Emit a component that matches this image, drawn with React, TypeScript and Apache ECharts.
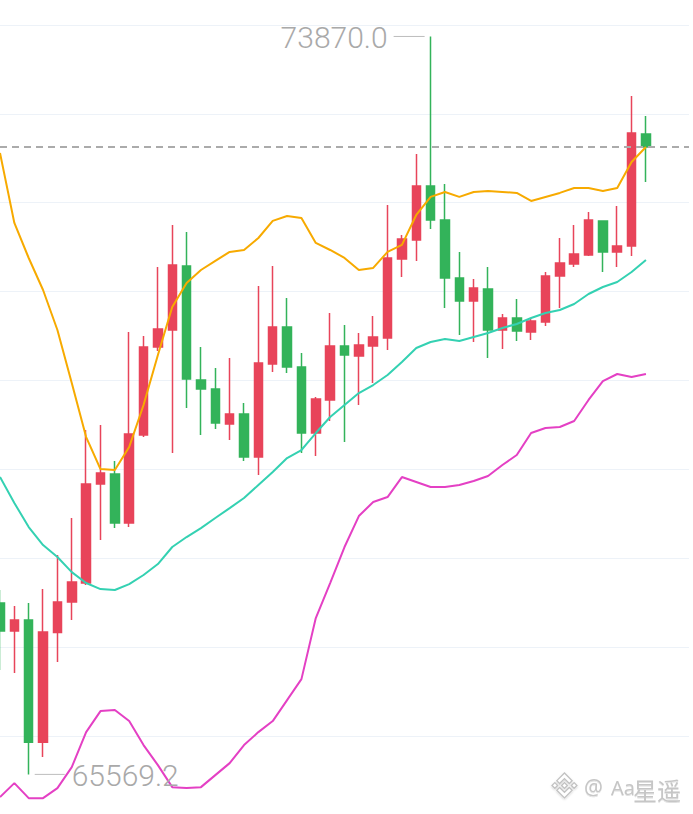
import React, { useEffect, useRef } from "react";
import * as echarts from "echarts";

// ---- data ----
const categories = Array.from({ length: 49 }, (_, i) => String(i + 1));

const opens = [67496, 67181, 67305, 65932, 67165, 67508, 67722, 68835, 68948, 68397, 69387, 70377, 70568, 71288, 70006, 69904, 69510, 69623, 69139, 70186, 70602, 70152, 69409, 69781, 70388, 70276, 70388, 70478, 71367, 71581, 72188, 71806, 71153, 70894, 71030, 70568, 70703, 70546, 70658, 71176, 71311, 71412, 71795, 71446, 71513, 72774];
const closes = [67181, 67305, 65932, 67170, 67508, 67733, 68835, 68959, 68397, 69398, 70377, 70579, 71300, 70017, 69904, 69522, 69623, 69139, 70197, 70602, 70152, 69409, 69792, 70388, 70287, 70399, 70489, 71378, 71592, 72188, 71806, 71153, 70894, 71041, 70568, 70703, 70557, 70670, 71176, 71322, 71423, 71806, 71446, 71513, 72785, 72627];
const lows = [66743, 66709, 65569.2, 65764, 66833, 67305, 67699, 68205, 68340, 68352, 69364, 70332, 69184, 69691, 69387, 69454, 69330, 69094, 68937, 70096, 70084, 69184, 69150, 69544, 69308, 69724, 69972, 70343, 71165, 71345, 71705, 70816, 70512, 70433, 70253, 70354, 70444, 70456, 70613, 70816, 71277, 71400, 71221, 71277, 71401, 72233];
const highs = [67643, 67463, 67496, 67654, 68037, 68453, 69443, 69499, 69094, 70546, 70501, 71277, 71750, 71671, 70377, 70141, 70253, 69747, 71063, 71288, 70928, 70309, 69814, 70760, 70624, 70534, 70726, 71975, 71637, 72549, 73870.0, 72211, 71446, 71142, 71277, 70748, 70917, 70703, 71221, 71603, 71750, 71896, 71800, 71963, 73201, 72976];

const upperBand = [72560, 71772, 71378, 71018, 70568, 69972, 69364, 69004, 68993, 69252, 69724, 70287, 70827, 71097, 71243, 71345, 71446, 71468, 71603, 71795, 71851, 71828, 71547, 71468, 71378, 71243, 71266, 71446, 71525, 71862, 72065, 72121, 72065, 72121, 72132, 72121, 72110, 72020, 72065, 72110, 72166, 72166, 72132, 72166, 72458, 72627];
const midBand = [68914, 68622, 68352, 68149, 68014, 67845, 67722, 67654, 67643, 67710, 67812, 67935, 68127, 68239, 68340, 68453, 68565, 68678, 68824, 68970, 69128, 69218, 69409, 69589, 69724, 69859, 69949, 70062, 70208, 70366, 70433, 70467, 70444, 70489, 70534, 70591, 70636, 70703, 70760, 70793, 70861, 70973, 71052, 71108, 71221, 71356];
const lowerBand = [65314, 65471, 65302, 65302, 65415, 65651, 66045, 66281, 66293, 66169, 65899, 65674, 65426, 65415, 65426, 65561, 65696, 65899, 66045, 66169, 66405, 66641, 67328, 67722, 68127, 68475, 68633, 68689, 68914, 68858, 68802, 68802, 68824, 68869, 68925, 69049, 69162, 69409, 69466, 69477, 69544, 69781, 69994, 70073, 70039, 70073];

const yTicks = [65000, 75000, 1000]; // min, max, step

const RED = "#e8445a";
const GREEN = "#33b35a";

// the chart canvas is taller than the page; it is shifted up so that
// the visible window shows the 65000..75000 range as in the reference
const OFFSET_TOP = 64;
const CANVAS_H = 889;

const LOGO_D =
  "M38.73 53.2L63.3 28.63l24.59 24.59 14.3-14.3L63.3 0 24.43 38.88l14.3 14.3zM0 63.31l14.3-14.3 14.3 14.3-14.3 14.3zm38.73 10.1L63.3 97.98l24.59-24.59 14.31 14.29-38.9 38.91-38.88-38.88-.02-.02 14.32-14.29zm59.28-10.1l14.3-14.3 14.3 14.3-14.3 14.3zM77.83 63.3L63.3 48.76 52.55 59.51l-1.24 1.23-2.54 2.54-.02.02.02.03 14.53 14.52 14.53-14.53.01-.01-.01-.01z";
echarts.graphic.registerShape("bnbLogo", echarts.graphic.extendPath(LOGO_D, {}));

export default function App() {
  const ref = useRef<HTMLDivElement>(null);

  useEffect(() => {
    if (!ref.current) return;
    const chart = echarts.init(ref.current, null, { renderer: "svg" });

    const candles = opens.map((o, i) => [o, closes[i], lows[i], highs[i]]);
    const maxVal = Math.max(...highs);
    const minVal = Math.min(...lows);
    const extremes = [
      [highs.indexOf(maxVal), maxVal, 0],
      [lows.indexOf(minVal), minVal, 1],
    ];
    const logoScale = 25 / 126.61;
    const Y = OFFSET_TOP;
    const wmStyle = {
      fill: "#c6c6c6",
      textShadowColor: "rgba(0,0,0,0.12)",
      textShadowBlur: 1,
      textShadowOffsetY: 1,
      verticalAlign: "middle",
    };

    chart.setOption({
      animation: false,
      backgroundColor: "#ffffff",
      grid: { left: 0, right: 4, top: 0, bottom: 0, containLabel: false },
      xAxis: {
        type: "category",
        data: categories,
        boundaryGap: false,
        axisLine: { show: false },
        axisTick: { show: false },
        axisLabel: { show: false },
        splitLine: { show: false },
      },
      yAxis: {
        type: "value",
        min: yTicks[0],
        max: yTicks[1],
        interval: yTicks[2],
        axisLine: { show: false },
        axisTick: { show: false },
        axisLabel: { show: false },
        splitLine: { show: true, lineStyle: { color: "#edf2f8", width: 1 } },
      },
      series: [
        {
          type: "candlestick",
          data: candles,
          barWidth: 9,
          itemStyle: {
            color: RED,
            color0: GREEN,
            borderColor: RED,
            borderColor0: GREEN,
            borderWidth: 1.5,
          },
          markLine: {
            silent: true,
            symbol: ["none", "none"],
            label: { show: false },
            lineStyle: { color: "#ababab", type: [7, 5], width: 2 },
            data: [{ yAxis: closes[closes.length - 1] }],
          },
          z: 2,
        },
        {
          type: "line",
          data: upperBand,
          symbol: "none",
          lineStyle: { color: "#f7aa00", width: 2 },
          z: 3,
        },
        {
          type: "line",
          data: midBand,
          symbol: "none",
          lineStyle: { color: "#34d1b2", width: 2 },
          z: 3,
        },
        {
          type: "line",
          data: lowerBand,
          symbol: "none",
          lineStyle: { color: "#e440c4", width: 2 },
          z: 3,
        },
        {
          type: "custom",
          data: extremes,
          encode: { x: 0, y: 1 },
          z: 5,
          silent: true,
          renderItem: (params: any, api: any) => {
            const idx = api.value(0);
            const val = api.value(1);
            const side = api.value(2);
            const p = api.coord([idx, val]);
            const left = side === 0;
            const x1 = left ? p[0] - 37 : p[0] + 6;
            const x2 = left ? p[0] - 6 : p[0] + 36;
            const tx = left ? p[0] - 43 : p[0] + 43;
            return {
              type: "group",
              children: [
                {
                  type: "line",
                  shape: { x1, y1: p[1], x2, y2: p[1] },
                  style: { stroke: "#bdbdbd", lineWidth: 1 },
                },
                {
                  type: "text",
                  x: tx,
                  y: p[1] + 1,
                  style: {
                    text: Number(val).toFixed(1),
                    fill: "#a9a9a9",
                    fontSize: 30,
                    fontFamily: "Roboto, 'Noto Sans', sans-serif",
                    fontWeight: 300,
                    align: left ? "right" : "left",
                    verticalAlign: "middle",
                  },
                },
              ],
            };
          },
        },
      ],
      graphic: [
        {
          type: "bnbLogo",
          x: 552,
          y: 773 + Y,
          scaleX: logoScale,
          scaleY: logoScale,
          silent: true,
          style: {
            fill: "#ffffff",
            stroke: "#c2c2c2",
            lineWidth: 1.3,
            strokeNoScale: true,
            shadowColor: "rgba(0,0,0,0.18)",
            shadowBlur: 2,
            shadowOffsetY: 1,
          },
        },
        {
          type: "text",
          x: 584,
          y: 787 + Y,
          silent: true,
          style: { ...wmStyle, text: "@", fontSize: 21, fontFamily: "'Noto Sans', sans-serif" },
        },
        {
          type: "text",
          x: 611,
          y: 787 + Y,
          silent: true,
          style: { ...wmStyle, text: "Aa", fontSize: 20, fontFamily: "'Noto Sans', sans-serif" },
        },
        {
          type: "text",
          x: 633,
          y: 789 + Y,
          silent: true,
          style: { ...wmStyle, text: "星遥", fontSize: 24, fontFamily: "'Noto Sans CJK SC', sans-serif" },
        },
      ],
    });

    return () => chart.dispose();
  }, []);

  return (
    <div
      ref={ref}
      style={{
        position: "fixed",
        left: 0,
        top: -OFFSET_TOP,
        width: 693,
        height: CANVAS_H,
        background: "#fff",
      }}
    />
  );
}
